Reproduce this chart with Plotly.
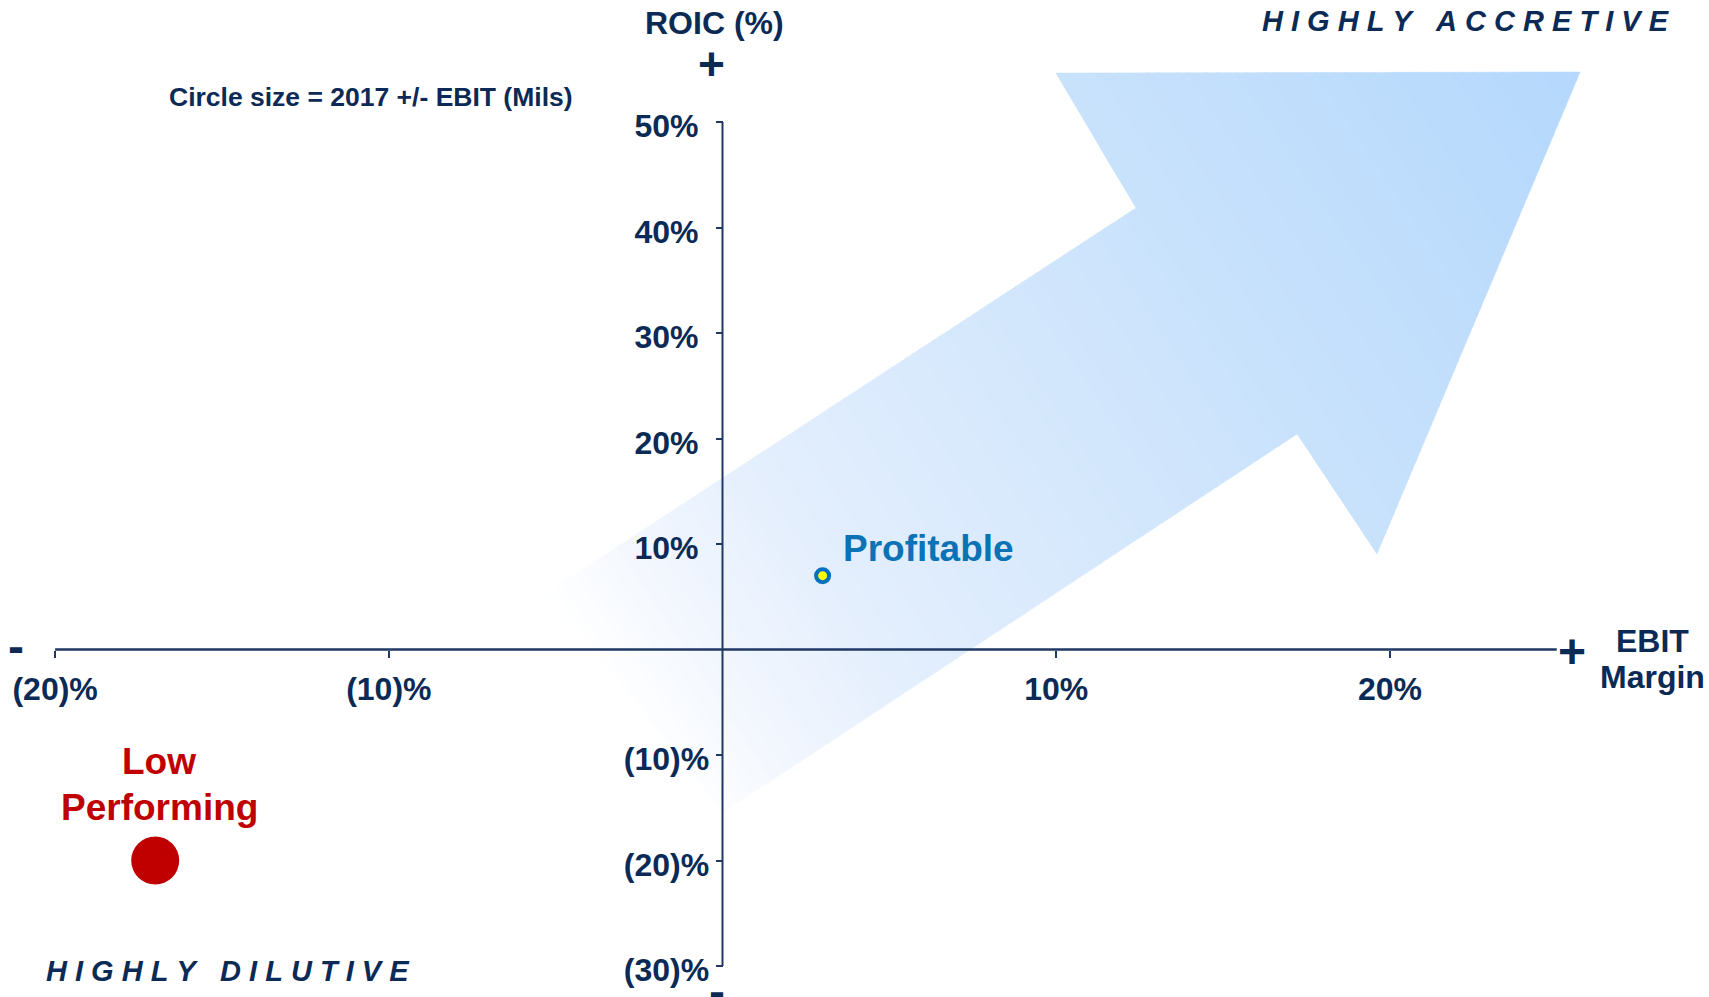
import numpy as np
import plotly.graph_objects as go

# ---------------- data ----------------
categories = ["Profitable", "Low Performing"]
ebit_margin_pct = [3.0, -17.0]
roic_pct = [7.0, -20.0]
ebit_change_mils = [0.5, -6.8]          # circle size = 2017 +/- EBIT (Mils)

x_tick_vals = [-20, -10, 10, 20]
x_tick_text = ["(20)%", "(10)%", "10%", "20%"]
y_tick_vals = [50, 40, 30, 20, 10, -10, -20, -30]
y_tick_text = ["50%", "40%", "30%", "20%", "10%", "(10)%", "(20)%", "(30)%"]

# decorative "accretion" arrow outline (data units)
arrow_x = [-5.23, 12.39, 9.99, 25.70, 19.61, 17.22, 0.04]
arrow_y = [5.45, 41.85, 54.64, 54.74, 9.05, 20.43, -15.40]

# ---------------- layout constants ----------------
W, H = 1709, 997
PXX, PXY = 33.37, 10.55          # pixels per unit
X0, Y0 = 722.5, 649.5            # pixel position of origin
xr = [-X0 / PXX, (W - X0) / PXX]
yr = [(Y0 - H) / PXY, Y0 / PXY]

NAVY = "#0B2A55"
LINE = "#1F3864"
RED = "#C00000"
BLUE = "#0B72B5"
FONT = "Liberation Sans, Arial, sans-serif"


def pdx(px):
    return (px - X0) / PXX


def pdy(py):
    return (Y0 - py) / PXY


fig = go.Figure()

# ---------------- gradient arrow (strips) ----------------
poly = [(x * PXX, y * PXY) for x, y in zip(arrow_x, arrow_y)]
u = np.array([0.832, 0.554])
u = u / np.linalg.norm(u)
tvals = [u[0] * p[0] + u[1] * p[1] for p in poly]
tmin, tmax = min(tvals), max(tvals)


def clip(pg, a, b, c):
    out = []
    n = len(pg)
    for i in range(n):
        P, Q = pg[i], pg[(i + 1) % n]
        fp = a * P[0] + b * P[1] - c
        fq = a * Q[0] + b * Q[1] - c
        if fp <= 0:
            out.append(P)
        if fp * fq < 0:
            t = fp / (fp - fq)
            out.append((P[0] + t * (Q[0] - P[0]), P[1] + t * (Q[1] - P[1])))
    return out


stops_s = [0.0, 0.10, 0.21, 0.62, 1.0]
stops_c = np.array([[255, 255, 255], [241, 246, 254], [228, 239, 253],
                    [201, 226, 252], [180, 216, 252]], float)


def col(s):
    c = [np.interp(s, stops_s, stops_c[:, k]) for k in range(3)]
    return "rgb(%d,%d,%d)" % tuple(int(round(v)) for v in c)


N = 140
dt = (tmax - tmin) / N
for i in range(N):
    a0 = tmin + i * dt
    a1 = a0 + dt + 1.2
    pg = clip(poly, -u[0], -u[1], -a0)
    if len(pg) < 3:
        continue
    pg = clip(pg, u[0], u[1], a1)
    if len(pg) < 3:
        continue
    c = col((i + 0.5) / N)
    xs = [p[0] / PXX for p in pg] + [pg[0][0] / PXX]
    ys = [p[1] / PXY for p in pg] + [pg[0][1] / PXY]
    fig.add_trace(go.Scatter(x=xs, y=ys, mode="lines", fill="toself",
                             fillcolor=c, line=dict(color=c, width=0.5),
                             hoverinfo="skip", showlegend=False))

# ---------------- bubbles ----------------
diam = [18.4 * np.sqrt(abs(v)) for v in ebit_change_mils]
fig.add_trace(go.Scatter(
    x=ebit_margin_pct, y=roic_pct, mode="markers", text=categories,
    marker=dict(size=diam, color=["#FFFF00", RED],
                line=dict(color=["#0070C0", RED], width=[4, 0]),
                opacity=1),
    hoverinfo="text", showlegend=False))

# ---------------- axes lines ----------------
fig.add_shape(type="line", x0=x_tick_vals[0], x1=25, y0=0, y1=0,
              line=dict(color=LINE, width=2.5), layer="above")
fig.add_shape(type="line", x0=0, x1=0, y0=y_tick_vals[-1], y1=y_tick_vals[0],
              line=dict(color=LINE, width=2), layer="above")

tickfont = dict(family=FONT, size=32, color=NAVY, weight="bold")
fig.update_xaxes(range=xr, domain=[0, 1], anchor="free",
                 position=(0 - yr[0]) / (yr[1] - yr[0]),
                 showgrid=False, zeroline=False, showline=False,
                 tickmode="array", tickvals=x_tick_vals, ticktext=x_tick_text,
                 ticks="outside", ticklen=7, tickwidth=2, tickcolor=LINE,
                 ticklabelstandoff=4,
                 tickfont=tickfont, fixedrange=True)
y_text = [t + ("<span style='color:rgba(0,0,0,0)'>)</span>" if not t.startswith("(") else "")
          for t in y_tick_text]
fig.update_yaxes(range=yr, domain=[0, 1], anchor="free",
                 position=(0 - xr[0]) / (xr[1] - xr[0]),
                 showgrid=False, zeroline=False, showline=False,
                 tickmode="array", tickvals=y_tick_vals, ticktext=y_text,
                 ticks="outside", ticklen=7, tickwidth=2, tickcolor=LINE,
                 ticklabelshift=4,
                 tickfont=tickfont, fixedrange=True)

# ---------------- annotations ----------------
def ann(text, px, py, size, color=NAVY, italic=False, **kw):
    fig.add_annotation(x=pdx(px), y=pdy(py), xref="x", yref="y", text=text,
                       showarrow=False, xanchor="center", yanchor="middle",
                       font=dict(family=FONT, size=size, color=color,
                                 weight="bold",
                                 style="italic" if italic else "normal"), **kw)


NB = "\u00a0"
ann("ROIC (%)", 714, 23, 32)
ann("+", 711, 64, 46)
ann("Circle size = 2017 +/- EBIT (Mils)", 371, 97, 26.5)
ann(NB.join("HIGHLY") + NB * 3 + NB.join("ACCRETIVE"), 1466, 21, 29, italic=True)
ann(NB.join("HIGHLY") + NB * 3 + NB.join("DILUTIVE"), 228, 971, 29, italic=True)
ann("-", 16, 646, 48)
ann("+", 1572, 651, 48)
ann("-", 717, 991, 48)
ann("EBIT", 1652, 641, 32)
ann("Margin", 1652, 677, 32)

# point labels (relative to points)
fig.add_annotation(x=ebit_margin_pct[0], y=roic_pct[0], text=categories[0],
                   showarrow=False, xanchor="center", yanchor="middle",
                   xshift=106, yshift=27,
                   font=dict(family=FONT, size=37, color=BLUE, weight="bold"))
fig.add_annotation(x=ebit_margin_pct[1], y=roic_pct[1], text="Low",
                   showarrow=False, xanchor="center", yanchor="middle",
                   xshift=4, yshift=99,
                   font=dict(family=FONT, size=37, color=RED, weight="bold"))
fig.add_annotation(x=ebit_margin_pct[1], y=roic_pct[1], text="Performing",
                   showarrow=False, xanchor="center", yanchor="middle",
                   xshift=4, yshift=53,
                   font=dict(family=FONT, size=37, color=RED, weight="bold"))

fig.update_layout(width=W, height=H, margin=dict(l=0, r=0, t=0, b=0, pad=0),
                  paper_bgcolor="white", plot_bgcolor="white",
                  showlegend=False)

fig.write_html("out.html", config={"displayModeBar": False})
